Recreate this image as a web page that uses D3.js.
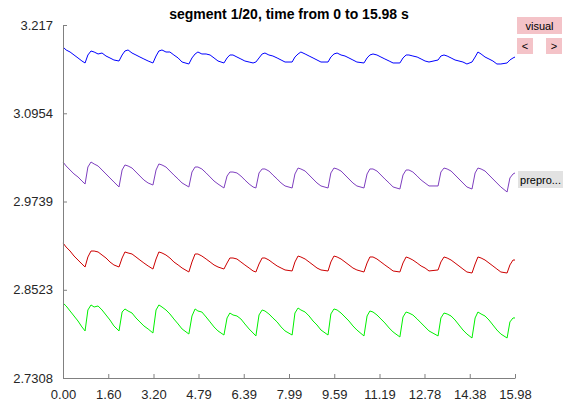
<!DOCTYPE html>
<html>
<head>
<meta charset="utf-8">
<script src="https://cdn.jsdelivr.net/npm/d3@7/dist/d3.min.js"></script>
<style>
  body { margin: 0; background: #fff; }
  svg { display: block; font-family: "Liberation Sans", Arial, sans-serif; }
</style>
</head>
<body>
<svg id="chart"></svg>
<script>
// time axis (s), shared by the four traces
var times = [0.00,0.11,0.25,0.39,0.53,0.67,
  0.78,0.88,0.99,1.10,1.24,1.38,1.52,1.66,1.80,
  1.98,2.09,2.19,2.30,2.44,2.58,2.72,2.86,3.01,
  3.18,3.29,3.39,3.50,3.64,3.78,3.92,4.07,4.21,
  4.45,4.56,4.67,4.77,4.91,5.06,5.20,5.34,5.48,
  5.69,5.80,5.90,6.01,6.15,6.29,6.43,6.58,6.72,
  6.82,6.93,7.04,7.14,7.28,7.42,7.57,7.71,7.85,
  8.10,8.20,8.31,8.41,8.56,8.70,8.84,8.98,9.12,
  9.37,9.47,9.58,9.69,9.83,9.97,10.11,10.25,10.39,
  10.64,10.75,10.85,10.96,11.10,11.24,11.38,11.53,11.67,
  11.91,12.02,12.13,12.23,12.37,12.52,12.66,12.80,12.94,
  13.26,13.36,13.47,13.58,13.72,13.86,14.00,14.14,14.28,
  14.46,14.57,14.67,14.78,14.92,15.06,15.20,15.34,15.48,
  15.70,15.80,15.91,15.98];

var blueVals = [3.1867,3.1826,3.1798,3.1757,3.1716,3.1674,
  3.1647,3.1757,3.1812,3.1798,3.1771,3.1784,3.1743,3.1716,3.1688,
  3.1674,3.1757,3.1812,3.1826,3.1784,3.1757,3.1729,3.1702,3.1674,
  3.1647,3.1743,3.1812,3.1826,3.1798,3.1798,3.1757,3.1716,3.1660,
  3.1633,3.1716,3.1771,3.1798,3.1771,3.1771,3.1757,3.1716,3.1674,
  3.1647,3.1716,3.1757,3.1757,3.1729,3.1702,3.1674,3.1660,3.1647,
  3.1660,3.1716,3.1771,3.1784,3.1757,3.1743,3.1716,3.1688,3.1660,
  3.1660,3.1729,3.1771,3.1798,3.1771,3.1743,3.1716,3.1688,3.1660,
  3.1660,3.1729,3.1771,3.1784,3.1757,3.1743,3.1716,3.1688,3.1660,
  3.1647,3.1716,3.1757,3.1771,3.1757,3.1729,3.1702,3.1674,3.1647,
  3.1647,3.1716,3.1757,3.1757,3.1743,3.1729,3.1702,3.1674,3.1660,
  3.1688,3.1743,3.1757,3.1743,3.1716,3.1688,3.1674,3.1660,3.1633,
  3.1660,3.1729,3.1798,3.1771,3.1729,3.1702,3.1674,3.1633,3.1633,
  3.1647,3.1688,3.1716,3.1729];

var purpleVals = [3.0283,3.0228,3.0173,3.0118,3.0077,3.0021,
  2.9980,3.0214,3.0283,3.0256,3.0228,3.0173,3.0118,3.0063,3.0008,
  2.9939,3.0173,3.0242,3.0228,3.0200,3.0145,3.0090,3.0035,2.9994,
  2.9966,3.0173,3.0256,3.0242,3.0214,3.0159,3.0104,3.0049,2.9994,
  2.9939,3.0145,3.0214,3.0214,3.0187,3.0132,3.0077,3.0021,2.9980,
  2.9925,3.0090,3.0145,3.0145,3.0132,3.0090,3.0035,2.9980,2.9939,
  2.9925,3.0132,3.0187,3.0187,3.0159,3.0104,3.0049,2.9994,2.9953,
  2.9925,3.0118,3.0200,3.0187,3.0159,3.0104,3.0049,2.9994,2.9953,
  2.9925,3.0132,3.0200,3.0187,3.0159,3.0104,3.0049,2.9994,2.9953,
  2.9925,3.0118,3.0187,3.0187,3.0159,3.0104,3.0049,2.9994,2.9939,
  2.9911,3.0104,3.0173,3.0173,3.0145,3.0090,3.0035,2.9994,2.9953,
  2.9953,3.0145,3.0200,3.0187,3.0159,3.0104,3.0049,2.9994,2.9939,
  2.9911,3.0132,3.0200,3.0187,3.0159,3.0104,3.0049,2.9994,2.9939,
  2.9870,3.0063,3.0118,3.0132];

var redVals = [2.9168,2.9112,2.9057,2.8988,2.8933,2.8878,
  2.8837,2.8975,2.9057,2.9057,2.9044,2.9002,2.8961,2.8906,2.8865,
  2.8837,2.8961,2.9044,2.9030,2.9016,2.8975,2.8933,2.8892,2.8851,
  2.8809,2.8947,2.9044,2.9030,2.9002,2.8961,2.8906,2.8865,2.8823,
  2.8768,2.8906,2.9016,2.9016,2.8988,2.8947,2.8906,2.8865,2.8837,
  2.8809,2.8892,2.8961,2.8961,2.8947,2.8906,2.8865,2.8823,2.8782,
  2.8768,2.8878,2.8961,2.8961,2.8933,2.8892,2.8851,2.8823,2.8796,
  2.8782,2.8906,2.8988,2.8975,2.8947,2.8906,2.8865,2.8823,2.8796,
  2.8782,2.8906,2.8988,2.8975,2.8947,2.8906,2.8865,2.8823,2.8796,
  2.8768,2.8892,2.8975,2.8975,2.8947,2.8906,2.8865,2.8823,2.8782,
  2.8768,2.8892,2.8975,2.8961,2.8933,2.8892,2.8851,2.8823,2.8782,
  2.8796,2.8906,2.8975,2.8961,2.8933,2.8892,2.8851,2.8809,2.8768,
  2.8754,2.8878,2.8975,2.8961,2.8933,2.8892,2.8851,2.8809,2.8768,
  2.8754,2.8865,2.8933,2.8933];

var greenVals = [2.8341,2.8300,2.8231,2.8162,2.8093,2.8011,
  2.7956,2.8245,2.8314,2.8286,2.8300,2.8245,2.8176,2.8107,2.8025,
  2.7956,2.8217,2.8259,2.8231,2.8203,2.8135,2.8080,2.8025,2.7983,
  2.7928,2.8245,2.8314,2.8286,2.8245,2.8190,2.8121,2.8052,2.7983,
  2.7914,2.8162,2.8259,2.8231,2.8217,2.8148,2.8080,2.8011,2.7956,
  2.7900,2.8135,2.8203,2.8176,2.8162,2.8121,2.8052,2.7983,2.7928,
  2.7887,2.8176,2.8245,2.8231,2.8190,2.8135,2.8080,2.8011,2.7956,
  2.7900,2.8203,2.8272,2.8245,2.8217,2.8162,2.8093,2.8038,2.7969,
  2.7900,2.8190,2.8259,2.8245,2.8203,2.8148,2.8093,2.8025,2.7969,
  2.7887,2.8162,2.8231,2.8217,2.8176,2.8121,2.8066,2.7997,2.7942,
  2.7873,2.8148,2.8217,2.8203,2.8176,2.8121,2.8066,2.8011,2.7956,
  2.7887,2.8135,2.8203,2.8190,2.8162,2.8107,2.8038,2.7969,2.7914,
  2.7859,2.8135,2.8217,2.8190,2.8162,2.8107,2.8038,2.7969,2.7914,
  2.7859,2.8080,2.8135,2.8135];

var xTicks = [0, 1.60, 3.20, 4.79, 6.39, 7.99, 9.59, 11.19, 12.78, 14.38, 15.98];
var yTicks = [2.7308, 2.8523, 2.9739, 3.0954, 3.217];
var yTickLabels = ["2.7308", "2.8523", "2.9739", "3.0954", "3.217"];
var titleText = "segment 1/20, time from 0 to 15.98 s";

var svgWidth = 563;
var svgHeight = 402;
var svg = d3.select("#chart")
    .attr("width", svgWidth)
    .attr("height", svgHeight);

var x = d3.scaleLinear().domain([0, 15.98]).range([63, 515]);
var y = d3.scaleLinear().domain([2.7308, 3.217]).range([378, 25]);

var traces = [
  { vals: blueVals, color: "#0000ff" },
  { vals: purpleVals, color: "#7e3fbf" },
  { vals: redVals, color: "#cc0000" },
  { vals: greenVals, color: "#00f000" }
];

var line = d3.line()
    .x(function(d) { return x(d[0]); })
    .y(function(d) { return y(d[1]); });

traces.forEach(function(tr) {
  svg.append("path")
      .datum(times.map(function(t, i) { return [t, tr.vals[i]]; }))
      .attr("fill", "none")
      .attr("stroke", tr.color)
      .attr("stroke-width", 1)
      .attr("d", line);
});

svg.append("g")
    .attr("transform", "translate(0,378)")
    .call(d3.axisBottom(x)
      .tickValues(xTicks)
      .tickFormat(function(d) { return d.toFixed(2); })
      .tickSizeInner(-4)
      .tickSizeOuter(0)
      .tickPadding(12));

svg.append("g")
    .attr("transform", "translate(63,0)")
    .call(d3.axisLeft(y)
      .tickValues(yTicks)
      .tickFormat(function(d, i) { return yTickLabels[i]; })
      .tickSizeInner(-4)
      .tickSizeOuter(0)
      .tickPadding(10));

svg.selectAll(".domain, .tick line").attr("stroke", "#808080");
svg.selectAll(".tick text")
    .attr("fill", "#262626")
    .style("font-size", "13px")
    .style("font-family", "\"Liberation Sans\", Arial, sans-serif");

svg.append("text")
    .attr("x", 289)
    .attr("y", 19)
    .attr("text-anchor", "middle")
    .style("font-size", "14px")
    .style("font-weight", "bold")
    .attr("fill", "#000")
    .text(titleText);

// ui buttons on the right
var buttons = [
  { label: "visual", x: 517, y: 17, w: 45, h: 17, fill: "#f4c3c8" },
  { label: "<", x: 517, y: 38, w: 16, h: 16, fill: "#f4c3c8" },
  { label: ">", x: 546, y: 38, w: 16, h: 16, fill: "#f4c3c8" },
  { label: "prepro...", x: 518, y: 171, w: 45, h: 17, fill: "#e2e2e2" }
];

var btn = svg.selectAll("g.btn")
    .data(buttons)
    .enter()
    .append("g")
    .attr("class", "btn");

btn.append("rect")
    .attr("x", function(d) { return d.x; })
    .attr("y", function(d) { return d.y; })
    .attr("width", function(d) { return d.w; })
    .attr("height", function(d) { return d.h; })
    .attr("fill", function(d) { return d.fill; });

btn.append("text")
    .attr("x", function(d) { return d.x + d.w / 2; })
    .attr("y", function(d) { return d.y + d.h / 2 + 4; })
    .attr("text-anchor", "middle")
    .style("font-size", "11px")
    .attr("fill", "#000")
    .text(function(d) { return d.label; });
</script>
</body>
</html>
